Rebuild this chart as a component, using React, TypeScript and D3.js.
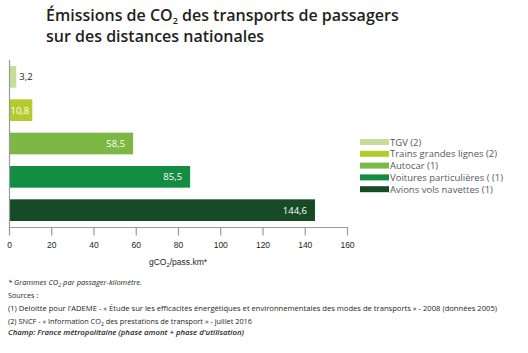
import { useEffect, useRef } from "react";
import * as d3 from "d3";

const categories = [
  "TGV (2)",
  "Trains grandes lignes (2)",
  "Autocar (1)",
  "Voitures particulières ( (1)",
  "Avions vols navettes (1)",
];
const values = [3.2, 10.8, 58.5, 85.5, 144.6];
const colors = ["#c5df9a", "#b3cb2d", "#7cb843", "#128d42", "#174b25"];
const xTicks = [0, 20, 40, 60, 80, 100, 120, 140, 160];

const fr = (v: number) => String(v).replace(".", ",");

const App = () => {
  const ref = useRef<SVGSVGElement>(null);

  useEffect(() => {
    const svg = d3.select(ref.current).html("");
    const sans = "'Open Sans', 'Noto Sans', sans-serif";

    // Title
    const t1 = svg
      .append("text")
      .attr("x", 46)
      .attr("y", 21)
      .attr("font-family", sans)
      .attr("font-weight", 600)
      .attr("font-size", 16)
      .attr("fill", "#231f20");
    t1.append("tspan").text("Émissions de CO");
    t1.append("tspan").attr("font-size", 9).attr("dy", 3).text("2");
    t1.append("tspan").attr("dy", -3).text(" des transports de passagers");
    svg
      .append("text")
      .attr("x", 46)
      .attr("y", 42)
      .attr("font-family", sans)
      .attr("font-weight", 600)
      .attr("font-size", 16)
      .attr("fill", "#231f20")
      .text("sur des distances nationales");

    const x = d3.scaleLinear().domain([0, 160]).range([9.5, 347.5]);
    const y = d3
      .scaleBand<number>()
      .domain(d3.range(values.length))
      .range([60, 227])
      .paddingInner(0.35)
      .paddingOuter(0.18);

    // Bars
    svg
      .selectAll(".bar")
      .data(values)
      .enter()
      .append("rect")
      .attr("x", x(0))
      .attr("y", (_, i) => y(i)!)
      .attr("width", (d) => x(d) - x(0))
      .attr("height", y.bandwidth())
      .attr("fill", (_, i) => colors[i]);

    // Value labels
    svg
      .selectAll(".val")
      .data(values)
      .enter()
      .append("text")
      .attr("font-family", sans)
      .attr("font-size", 9.5)
      .attr("y", (_, i) => y(i)! + y.bandwidth() / 2 + 3.5)
      .attr("x", (d) => (d < 5 ? x(d) + 3 : d < 20 ? x(0) + 1 : x(d) - 8))
      .attr("text-anchor", (d) => (d < 20 ? "start" : "end"))
      .attr("fill", (d) => (d < 5 ? "#231f20" : "#ffffff"))
      .text((d) => fr(d));

    // Axes
    const axisColor = "#9a9a9a";
    svg
      .append("line")
      .attr("x1", x(0))
      .attr("x2", x(0))
      .attr("y1", 60)
      .attr("y2", 227.5)
      .attr("stroke", axisColor)
      .attr("stroke-width", 1.2);
    svg
      .append("line")
      .attr("x1", x(0) - 0.6)
      .attr("x2", x(160) + 0.6)
      .attr("y1", 227.5)
      .attr("y2", 227.5)
      .attr("stroke", axisColor)
      .attr("stroke-width", 1.2);
    const tick = svg.selectAll(".tick").data(xTicks).enter().append("g");
    tick
      .append("line")
      .attr("x1", (d) => x(d))
      .attr("x2", (d) => x(d))
      .attr("y1", 227.5)
      .attr("y2", 235.5)
      .attr("stroke", axisColor)
      .attr("stroke-width", 1.2);
    tick
      .append("text")
      .attr("x", (d) => x(d))
      .attr("y", 248)
      .attr("text-anchor", "middle")
      .attr("font-family", "'Liberation Sans Narrow', 'Liberation Sans', Arial, sans-serif")
      .attr("font-size", 8.5)
      .attr("fill", "#231f20")
      .text((d) => d);

    const xt = svg
      .append("text")
      .attr("x", 178)
      .attr("y", 265)
      .attr("text-anchor", "middle")
      .attr("font-family", "'Liberation Sans Narrow', 'Liberation Sans', Arial, sans-serif")
      .attr("font-size", 8.5)
      .attr("fill", "#231f20");
    xt.append("tspan").text("gCO");
    xt.append("tspan").attr("font-size", 6).attr("dy", 2).text("2");
    xt.append("tspan").attr("dy", -2).text("/pass.km*");

    // Legend
    const lg = svg
      .selectAll(".lg")
      .data(categories)
      .enter()
      .append("g")
      .attr("transform", (_, i) => `translate(360,${139 + i * 11.8})`);
    lg.append("rect")
      .attr("width", 29)
      .attr("height", 6)
      .attr("fill", (_, i) => colors[i]);
    lg.append("text")
      .attr("x", 30)
      .attr("y", 6.5)
      .attr("font-family", sans)
      .attr("font-size", 9.5)
      .attr("fill", "#58595b")
      .text((d) => d);

    // Footnotes
    const note = (yy: number, len: number | null, italic = false, bold = false) => {
      const t = svg
        .append("text")
        .attr("x", 8)
        .attr("y", yy)
        .attr("font-family", sans)
        .attr("font-size", 7.2)
        .attr("font-style", italic ? "italic" : "normal")
        .attr("font-weight", bold ? 600 : 400)
        .attr("fill", "#231f20");
      if (len) t.attr("textLength", len).attr("lengthAdjust", "spacingAndGlyphs");
      return t;
    };

    const n1 = note(285, 134, true);
    n1.append("tspan").text("* Grammes CO");
    n1.append("tspan").attr("font-size", 5).attr("dy", 1.5).text("2");
    n1.append("tspan").attr("dy", -1.5).text(" par passager-kilomètre.");
    note(298, null).text("Sources :");
    note(311, 489).text(
      "(1) Deloitte pour l'ADEME - « Étude sur les efficacités énergétiques et environnementales des modes de transports » - 2008 (données 2005)"
    );
    const n4 = note(324, 244);
    n4.append("tspan").text("(2) SNCF - « Information CO");
    n4.append("tspan").attr("font-size", 5).attr("dy", 1.5).text("2");
    n4.append("tspan").attr("dy", -1.5).text(" des prestations de transport » - juillet 2016");
    note(335, 236, true, true).text("Champ: France métropolitaine  (phase amont + phase d'utilisation)");
  }, []);

  return (
    <svg
      ref={ref}
      width={528}
      height={353}
      style={{ display: "block", position: "absolute", left: 0, top: 0 }}
    ></svg>
  );
};

export default App;
